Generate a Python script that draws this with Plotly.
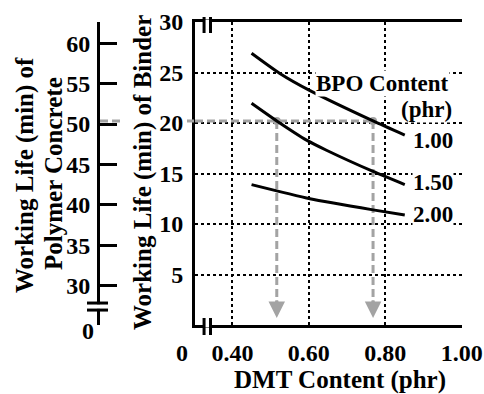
import plotly.graph_objects as go

# ---- data ----
dmt_100 = [0.450, 0.524, 0.603, 0.768, 0.851]
wl_100 = [26.9, 24.9, 23.2, 20.2, 18.8]
dmt_150 = [0.450, 0.516, 0.594, 0.646, 0.768, 0.851]
wl_150 = [21.95, 20.2, 18.3, 17.3, 15.2, 13.9]
dmt_200 = [0.450, 0.603, 0.768, 0.851]
wl_200 = [13.9, 12.5, 11.4, 10.9]
series_labels = ["1.00", "1.50", "2.00"]

guide_x = [0.516, 0.768]   # DMT for 50 min concrete working life
guide_y = 20.2             # binder working life (min)
x_ticks = [0.40, 0.60, 0.80, 1.00]
x_ticktext = ["0.40", "0.60", "0.80", "1.00"]
y_ticks = [5, 10, 15, 20, 25, 30]
pc_ticks = [30, 35, 40, 45, 50, 55, 60]

X_RANGE = [0.302, 1.0008]
Y_RANGE = [0, 30]
PC_RANGE = [25.11, 62.64]

FONT = "Liberation Serif, Times New Roman, serif"
GRAY = "#a3a3a3"
W_PAPER = 462.0  # plotting width of paper in px (width - right margin)

def px(xpix):
    return xpix / W_PAPER

def py(ypix):
    return (325 - ypix) / 303.0

def bold(s):
    return "<b>" + s + "</b>"

fig = go.Figure()

# invisible trace to activate the secondary (concrete) axis
fig.add_trace(go.Scatter(x=[None], y=[None], yaxis="y2", showlegend=False,
                         hoverinfo="skip"))

# gray guide points
fig.add_trace(go.Scatter(x=guide_x, y=[guide_y] * len(guide_x), mode="markers",
                         marker=dict(color=GRAY, size=8), showlegend=False))

for xs, ys in [(dmt_100, wl_100), (dmt_150, wl_150), (dmt_200, wl_200)]:
    fig.add_trace(go.Scatter(x=xs, y=ys, mode="lines",
                             line=dict(color="black", width=3, shape="spline",
                                       smoothing=0.6),
                             showlegend=False))

shapes = []
# gray dashed guides
shapes.append(dict(type="line", xref="x", yref="y", x0=X_RANGE[0], x1=guide_x[1],
                   y0=guide_y, y1=guide_y, layer="between",
                   line=dict(color=GRAY, width=3, dash="8px,4px")))
for gx in guide_x:
    shapes.append(dict(type="line", xref="x", yref="y", x0=gx, x1=gx,
                       y0=guide_y, y1=1.9, layer="between",
                       line=dict(color=GRAY, width=3, dash="8px,4px")))
# guide segments outside the plot
shapes.append(dict(type="line", xref="paper", yref="y", x0=px(100), x1=px(123),
                   y0=guide_y, y1=guide_y, layer="above",
                   line=dict(color=GRAY, width=3, dash="8px,4px")))
shapes.append(dict(type="line", xref="paper", yref="y", x0=px(187), x1=px(194),
                   y0=guide_y, y1=guide_y, layer="above",
                   line=dict(color=GRAY, width=3)))

# axis breaks on x axis (top and bottom)
bx = [0.3257, 0.3426]
for (ya, yb, yl) in [(py(17), py(33), 1.0), (py(318), py(335), 0.0)]:
    shapes.append(dict(type="line", xref="x", yref="paper", x0=bx[0] + 0.002,
                       x1=bx[1] - 0.002, y0=yl, y1=yl, layer="above",
                       line=dict(color="white", width=5)))
    for b in bx:
        shapes.append(dict(type="line", xref="x", yref="paper", x0=b, x1=b,
                           y0=ya, y1=yb, layer="above",
                           line=dict(color="black", width=3)))
# axis break on concrete axis
pcb = [27.83, 26.96]
shapes.append(dict(type="line", xref="paper", yref="y2", x0=px(98), x1=px(98),
                   y0=pcb[0] - 0.15, y1=pcb[1] + 0.15, layer="above",
                   line=dict(color="white", width=5)))
for b in pcb:
    shapes.append(dict(type="line", xref="paper", yref="y2", x0=px(87), x1=px(108),
                       y0=b, y1=b, layer="above",
                       line=dict(color="black", width=3)))

annotations = []
# arrow heads
for gx in guide_x:
    annotations.append(dict(x=gx, y=0.7, ax=gx, ay=2.6, xref="x", yref="y",
                            axref="x", ayref="y", showarrow=True, arrowhead=2,
                            arrowsize=1.1, arrowwidth=3, arrowcolor=GRAY, text=""))

def txt(text, x, y, size, xref="paper", yref="paper", angle=0, xanchor="center",
        bg=None):
    d = dict(text=bold(text), x=x, y=y, xref=xref, yref=yref, showarrow=False,
             textangle=angle, xanchor=xanchor, yanchor="middle",
             font=dict(family=FONT, size=size, color="black"))
    if bg:
        d["bgcolor"] = bg
        d["borderpad"] = 0
    return d

annotations.append(txt("0", px(182), py(353), 24))
annotations.append(txt("0", px(88), py(331), 24))
annotations.append(txt("DMT Content (phr)", px(340), py(380), 25))
annotations.append(txt("Working Life (min) of Binder", px(143), py(173), 25, angle=-90))
annotations.append(txt("Working Life (min) of", px(25), py(175), 25, angle=-90))
annotations.append(txt("Polymer Concrete", px(53), py(174), 25, angle=-90))
annotations.append(txt("BPO Content", 0.792, 23.95, 23, xref="x", yref="y", bg="white"))
annotations.append(txt("(phr)", 0.909, 21.3, 23, xref="x", yref="y", bg="white"))
for lab, yv in zip(series_labels, [18.3, 14.15, 10.9]):
    annotations.append(txt(lab, 0.925, yv, 23, xref="x", yref="y", bg="white"))

tickfont = dict(family=FONT, size=24, color="black")

fig.update_layout(
    width=484, height=394,
    margin=dict(l=0, r=22, t=22, b=69),
    paper_bgcolor="white", plot_bgcolor="white",
    showlegend=False,
    font=dict(family=FONT, size=24, color="black"),
    xaxis=dict(domain=[195 / W_PAPER, 1], range=X_RANGE, tickvals=x_ticks,
               ticktext=[bold(t) for t in x_ticktext], ticks="", showline=True,
               linecolor="black", linewidth=3, mirror=True, showgrid=True,
               gridcolor="black", gridwidth=2, griddash="3px,3px", zeroline=False,
               tickfont=tickfont, ticklabelstandoff=4),
    yaxis=dict(range=Y_RANGE, tickvals=y_ticks,
               ticktext=[bold(str(t)) for t in y_ticks], ticks="", showline=True,
               linecolor="black", linewidth=3, showgrid=True, gridcolor="black",
               gridwidth=2, griddash="3px,3px", zeroline=False,
               tickfont=tickfont, ticklabelstandoff=4),
    yaxis2=dict(range=PC_RANGE, overlaying="y", anchor="free", position=98 / W_PAPER,
                side="left", tickvals=pc_ticks + [PC_RANGE[0]],
                ticktext=[bold(str(t)) for t in pc_ticks] + [""],
                ticks="inside", ticklen=17, tickwidth=3, tickcolor="black",
                showline=True, linecolor="black", linewidth=3, showgrid=False,
                zeroline=False, tickfont=tickfont, ticklabelstandoff=2),
    shapes=shapes,
    annotations=annotations,
)

fig.write_html("out.html")
